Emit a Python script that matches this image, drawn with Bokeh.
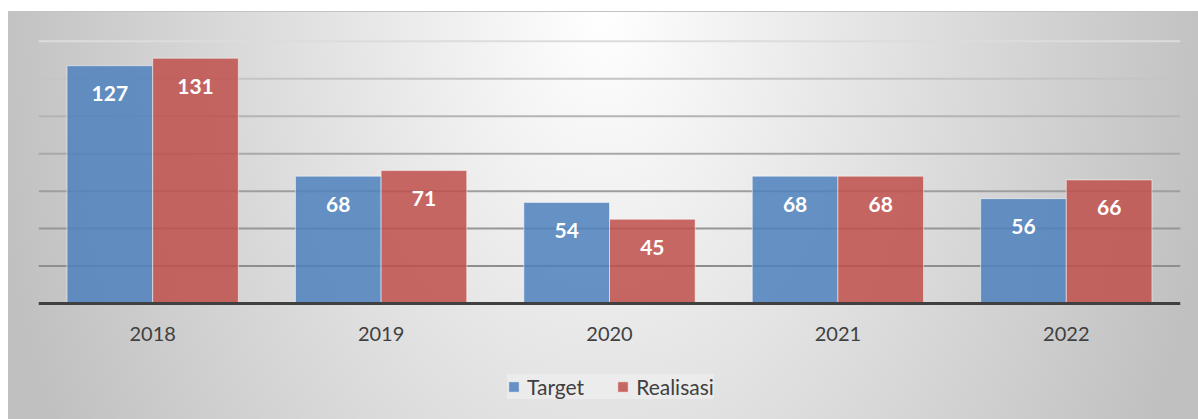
from bokeh.plotting import figure
from bokeh.models import ColumnDataSource, FactorRange, Legend, LegendItem, Span
from bokeh.transform import dodge
from bokeh.core.properties import value
from bokeh.embed import file_html
from bokeh.resources import INLINE

years = ["2018", "2019", "2020", "2021", "2022"]
target = [127, 68, 54, 68, 56]
realisasi = [131, 71, 45, 68, 66]
grid_values = [20, 40, 60, 80, 100, 120, 140]
grid_colors = ["#8e8e8e", "#969696", "#9e9e9e", "#a8a8a8", "#b4b4b4", "#c4c4c4", "#dcdcdc"]

src = ColumnDataSource(dict(
    year=years, target=target, realisasi=realisasi,
    tlab=[str(v) for v in target], rlab=[str(v) for v in realisasi],
    zero=[0] * len(years),
))

# frame spans down to the bottom of the page; the value axis runs 0..141 over 264 px
p = figure(
    width=1198, height=419, x_range=FactorRange(*years), y_range=(-61.96, 141),
    output_backend="svg", toolbar_location=None,
    x_axis_location=None, y_axis_location=None,
    min_border_left=38, min_border_right=18, min_border_top=39, min_border_bottom=0,
)
p.styles = {
    "background": (
        "linear-gradient(#ffffff,#ffffff) 0 0 / 100% 11px no-repeat, "
        "linear-gradient(#ffffff,#ffffff) 0 0 / 8px 100% no-repeat, "
        "linear-gradient(#c4c4c4,#c4c4c4) 8px 11px / 100% 1px no-repeat, "
        "radial-gradient(620px 900px at 603px 11px, #ffffff 0%, #c0c0c0 100%)"
    )
}
p.border_fill_color = None
p.background_fill_color = None
p.outline_line_color = None
p.xgrid.visible = False
p.ygrid.visible = False

for v, c in zip(grid_values, grid_colors):
    p.add_layout(Span(location=v, dimension="width", line_color=c, line_width=2, level="underlay"))

BLUE = "#4f81bd"
RED = "#c0504d"
rb = p.vbar(x=dodge("year", -0.1875, range=p.x_range), top="target", width=0.375, source=src,
            fill_color=BLUE, fill_alpha=0.86, line_color="#ffffff", line_alpha=0.5, line_width=1)
rr = p.vbar(x=dodge("year", 0.1875, range=p.x_range), top="realisasi", width=0.375, source=src,
            fill_color=RED, fill_alpha=0.86, line_color="#ffffff", line_alpha=0.5, line_width=1)

# category axis line at zero
p.add_layout(Span(location=0, dimension="width", line_color="#404040", line_width=3, level="overlay"))

for col, lab, off in [("target", "tlab", -0.1875), ("realisasi", "rlab", 0.1875)]:
    p.text(x=dodge("year", off, range=p.x_range), y=col, text=lab, source=src,
           text_align="center", text_baseline="middle", y_offset=28,
           text_color="#ffffff", text_font=value("Lato"), text_font_style="bold",
           text_font_size="21px")

# category tick labels
p.text(x="year", y="zero", text="year", source=src, text_align="center", text_baseline="middle",
       y_offset=31, text_color="#404040", text_font=value("Lato"), text_font_size="20px")

legend = Legend(
    items=[LegendItem(label="Target", renderers=[rb]), LegendItem(label="Realisasi", renderers=[rr])],
    location=(469, 20), orientation="horizontal", margin=0,
    glyph_width=13, glyph_height=13, label_standoff=7, spacing=32, padding=12,
    label_text_font="Lato", label_text_font_size="21px", label_text_color="#404040",
    background_fill_color="#f4f4f4", background_fill_alpha=0.5, border_line_color=None,
)
p.add_layout(legend, "center")

open("out.html", "w").write(file_html(p, INLINE))
